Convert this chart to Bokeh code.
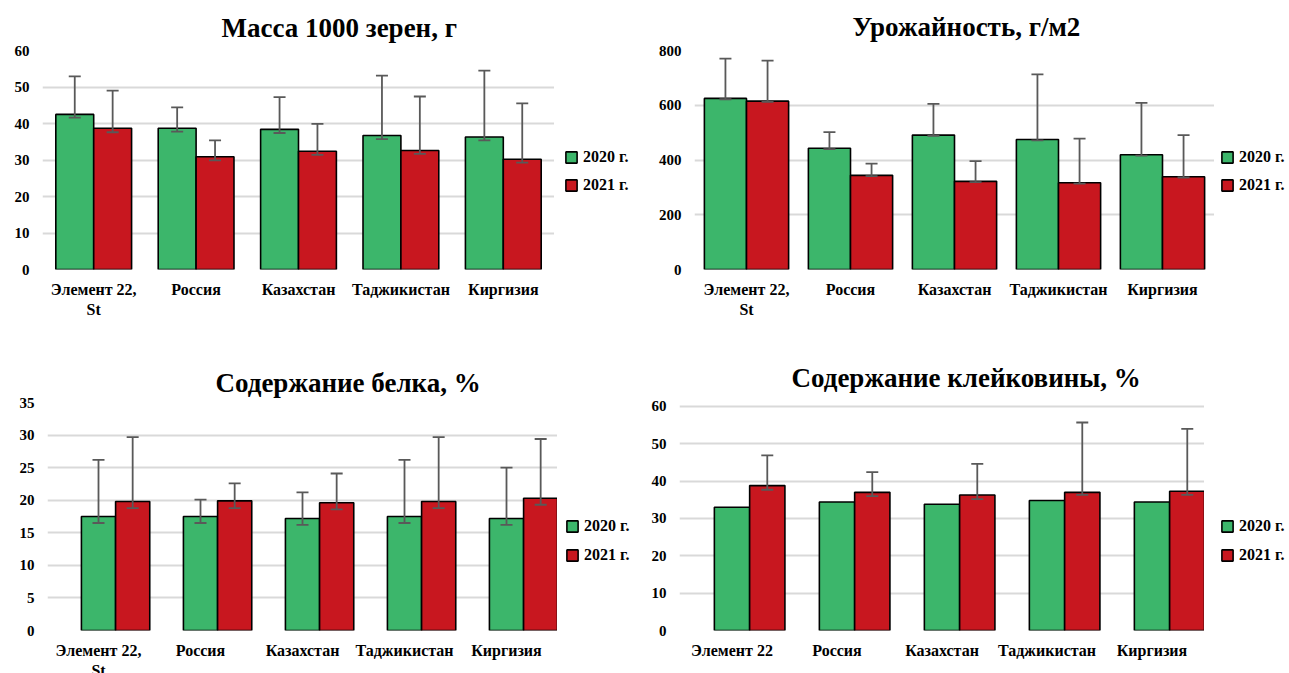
from bokeh.plotting import figure
from bokeh.models import (FactorRange, Range1d, FixedTicker, Legend, LegendItem,
                          ColumnDataSource)
from bokeh.transform import dodge
from bokeh.layouts import row, column
from bokeh.embed import file_html
from bokeh.resources import INLINE

# ---------------- data ----------------
cats_st = ["Элемент 22,\nSt", "Россия", "Казахстан", "Таджикистан", "Киргизия"]
cats_plain = ["Элемент 22", "Россия", "Казахстан", "Таджикистан", "Киргизия"]
years = ["2020 г.", "2021 г."]

mass_2020 = [42.5, 38.7, 38.4, 36.7, 36.3]
mass_2021 = [38.7, 30.9, 32.4, 32.6, 30.2]
mass_2020_hi = [52.9, 44.4, 47.2, 53.1, 54.5]
mass_2020_lo = [41.6, 37.8, 37.4, 35.7, 35.4]
mass_2021_hi = [49.0, 35.4, 39.9, 47.4, 45.5]
mass_2021_lo = [37.6, 29.9, 31.4, 31.7, 29.3]

yield_2020 = [625, 443, 491, 475, 419]
yield_2021 = [615, 344, 322, 317, 339]
yield_2020_hi = [770, 502, 605, 713, 609]
yield_2020_lo = [622, 440, 488, 472, 416]
yield_2021_hi = [763, 387, 396, 478, 491]
yield_2021_lo = [612, 341, 319, 314, 336]

protein_2020 = [17.5, 17.5, 17.2, 17.5, 17.2]
protein_2021 = [19.8, 19.9, 19.6, 19.8, 20.3]
protein_2020_hi = [26.2, 20.1, 21.2, 26.2, 25.0]
protein_2020_lo = [16.5, 16.5, 16.2, 16.5, 16.2]
protein_2021_hi = [29.7, 22.6, 24.1, 29.7, 29.4]
protein_2021_lo = [18.8, 18.8, 18.6, 18.8, 19.3]

gluten_2020 = [33.0, 34.4, 33.8, 34.8, 34.4]
gluten_2021 = [38.8, 37.0, 36.3, 37.0, 37.3]
gluten_2021_hi = [46.9, 42.4, 44.6, 55.7, 54.0]
gluten_2021_lo = [37.7, 36.0, 35.2, 36.3, 36.3]

titles = ["Масса 1000 зерен, г", "Урожайность, г/м2",
          "Содержание белка, %", "Содержание клейковины, %"]

GREEN = "#3CB66B"
RED = "#C8171F"
ERR = "#595959"
GRID = "#D9D9D9"
FONT = "Liberation Serif"


def panel(cats, v20, v21, hi20, lo20, hi21, lo21, title, ymax, yend, step,
          width, height, left, top, bottom,
          off20, off21, bw, t_offset, t_standoff):
    p = figure(x_range=FactorRange(*cats), y_range=Range1d(0, yend),
               width=width, height=height, output_backend="svg",
               toolbar_location=None, tools="")
    p.min_border_left = left
    p.min_border_right = 0
    p.min_border_top = top
    p.min_border_bottom = bottom
    p.outline_line_color = None
    p.background_fill_color = "white"
    p.border_fill_color = "white"

    src = ColumnDataSource(dict(cat=cats, v20=v20, v21=v21,
                                hi20=hi20 if hi20 else v20,
                                lo20=lo20 if lo20 else v20,
                                hi21=hi21, lo21=lo21))
    p.vbar(x=dodge("cat", off20, range=p.x_range), top="v20", width=bw,
           source=src, fill_color=GREEN, line_color="black", line_width=1.6)
    p.vbar(x=dodge("cat", off21, range=p.x_range), top="v21", width=bw,
           source=src, fill_color=RED, line_color="black", line_width=1.6)

    bars = [(off21, "hi21", "lo21")]
    if hi20:
        bars.insert(0, (off20, "hi20", "lo20"))
    for off, hi, lo in bars:
        xx = dodge("cat", off, range=p.x_range)
        p.segment(x0=xx, y0=lo, x1=xx, y1=hi, source=src,
                  line_color=ERR, line_width=1.8)
        p.scatter(x=xx, y=hi, source=src, marker="dash", size=12,
                  line_color=ERR, line_width=1.8)
        p.scatter(x=xx, y=lo, source=src, marker="dash", size=12,
                  line_color=ERR, line_width=1.8)

    # title
    p.title.text = title
    p.title.text_font = FONT
    p.title.text_font_size = "27px"
    p.title.text_font_style = "bold"
    p.title.text_color = "black"
    p.title.align = "left"
    p.title.offset = t_offset
    p.title.standoff = t_standoff

    # axes
    p.yaxis.ticker = FixedTicker(ticks=list(range(0, ymax + 1, step)))
    p.yaxis.axis_line_color = None
    p.yaxis.major_tick_line_color = None
    p.yaxis.minor_tick_line_color = None
    p.yaxis.major_tick_out = 0
    p.yaxis.major_label_standoff = 13
    p.yaxis.major_label_text_font = FONT
    p.yaxis.major_label_text_font_style = "bold"
    p.yaxis.major_label_text_font_size = "15px"
    p.yaxis.major_label_text_color = "black"

    p.xgrid.grid_line_color = None
    p.ygrid.grid_line_color = GRID
    p.ygrid.grid_line_width = 2

    p.xaxis.axis_line_color = None
    p.xaxis.major_tick_line_color = None
    p.xaxis.major_tick_out = 0
    p.xaxis.major_label_standoff = 11
    p.xaxis.major_label_text_font = FONT
    p.xaxis.major_label_text_font_style = "bold"
    p.xaxis.major_label_text_font_size = "16px"
    p.xaxis.major_label_text_color = "black"
    return p, src


def legend_box(cats, src, width, height, leg_xy, leg_spacing):
    # narrow companion plot carrying only the legend; its series renderers
    # are hidden, so only the legend swatches and labels are shown
    q = figure(width=width, height=height, output_backend="svg",
               toolbar_location=None, tools="", x_axis_type=None, y_axis_type=None,
               x_range=FactorRange(*cats), y_range=Range1d(0, 1), min_border=0)
    q.outline_line_color = None
    q.xgrid.visible = False
    q.ygrid.visible = False
    g = q.vbar(x="cat", top="v20", width=0.3, source=src,
               fill_color=GREEN, line_color="black", line_width=1.6)
    r = q.vbar(x="cat", top="v21", width=0.3, source=src,
               fill_color=RED, line_color="black", line_width=1.6)
    g.visible = False
    r.visible = False
    leg = Legend(items=[LegendItem(label=years[0], renderers=[g]),
                        LegendItem(label=years[1], renderers=[r])],
                 location=leg_xy, orientation="vertical")
    leg.inactive_fill_alpha = 0
    leg.glyph_width = 14
    leg.glyph_height = 14
    leg.label_height = 19
    leg.label_standoff = 5
    leg.spacing = leg_spacing
    leg.padding = 0
    leg.margin = 0
    leg.border_line_color = None
    leg.background_fill_alpha = 0
    leg.label_text_font = FONT
    leg.label_text_font_style = "bold"
    leg.label_text_font_size = "16px"
    leg.label_text_color = "black"
    q.add_layout(leg)
    return q


p1, s1 = panel(cats_st, mass_2020, mass_2021, mass_2020_hi, mass_2020_lo,
               mass_2021_hi, mass_2021_lo, titles[0], 60, 60, 10,
               554, 335, 42, 50, 66, -0.185, 0.185, 0.37, 179, 16)
l1 = legend_box(cats_st, s1, 94, 335, (10, 75), 9)
p2, s2 = panel(cats_st, yield_2020, yield_2021, yield_2020_hi, yield_2020_lo,
               yield_2021_hi, yield_2021_lo, titles[1], 800, 800, 200,
               566, 335, 46, 50, 66, -0.2025, 0.2025, 0.405, 158, 17)
l2 = legend_box(cats_st, s2, 74, 335, (6, 75), 9)
p3, s3 = panel(cats_st, protein_2020, protein_2021, protein_2020_hi, protein_2020_lo,
               protein_2021_hi, protein_2021_lo, titles[2], 35, 35, 5,
               557, 346, 47, 67, 49, 0.0, 0.335, 0.335, 168, 9)
l3 = legend_box(cats_st, s3, 91, 346, (8, 66), 10)
p4, s4 = panel(cats_plain, gluten_2020, gluten_2021, None, None,
               gluten_2021_hi, gluten_2021_lo, titles[3], 60, 61.06, 10,
               556, 346, 31, 67, 49, 0.0, 0.336, 0.336, 112, 20)
l4 = legend_box(cats_plain, s4, 84, 346, (16, 66), 10)

layout = column(row(p1, l1, p2, l2), row(p3, l3, p4, l4))
open("out.html", "w").write(file_html(layout, INLINE))
